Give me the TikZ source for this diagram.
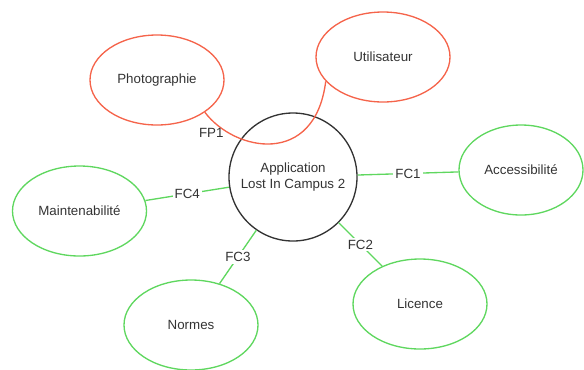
\documentclass[tikz,border=0pt]{standalone}
\usepackage{fontspec}
\setmainfont{Liberation Sans}
\usetikzlibrary{shapes.geometric}
\definecolor{fpred}{RGB}{245,100,75}
\definecolor{fcgreen}{RGB}{95,215,95}
\definecolor{txtgray}{RGB}{51,51,51}
\begin{document}
\begin{tikzpicture}[x=0.75pt, y=-0.75pt, font=\fontsize{10}{12}\selectfont, text=txtgray,
		fpnode/.style={draw=fpred, line width=1pt, ellipse, minimum width=100.5pt, minimum height=67.5pt},
		fcnode/.style={draw=fcgreen, line width=1pt, ellipse, minimum width=100.5pt, minimum height=67.5pt},
		fcline/.style={draw=fcgreen, line width=1pt},
		lbl/.style={fill=white, inner sep=1.5pt, text=txtgray}]
		\useasboundingbox (0,0) rectangle (584,369);
		
		\node[draw=txtgray, line width=1pt, circle, minimum size=96pt, align=center] (app) at (293,177) {Application\\Lost In Campus 2};
		
		\node[fpnode] (photo) at (157,80) {Photographie};
		\node[fpnode] (user) at (383,57) {Utilisateur};
		
		\node[fcnode, minimum width=93pt] (access) at (521,170) {Accessibilité};
		\node[fcnode] (licence) at (420,304) {Licence};
		\node[fcnode] (normes) at (191,325) {Normes};
		\node[fcnode] (maint) at (79.5,211) {Maintenabilité};
		
		\draw[draw=fpred, line width=1pt] (photo.-34) .. controls (235,152) and (315,167) .. node[pos=0.1, below, xshift=-3pt, text=txtgray] {FP1} (user.-157);
		
		\draw[fcline] (app) -- node[lbl] {FC1} (access);
		\draw[fcline] (app) -- node[lbl] {FC2} (licence);
		\draw[fcline] (app) -- node[lbl] {FC3} (normes);
		\draw[fcline] (maint) -- node[lbl] {FC4} (app);
	\end{tikzpicture}
\end{document}
